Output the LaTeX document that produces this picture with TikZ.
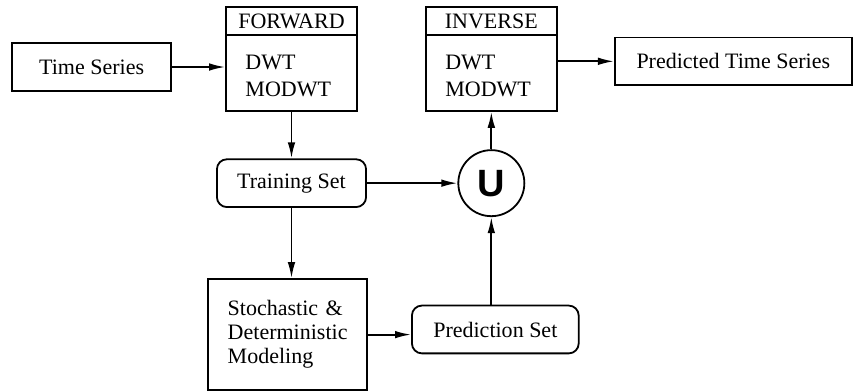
\documentclass[tikz,border=0pt]{standalone}
\usepackage{fontspec}
\setmainfont{Liberation Serif}
\newfontfamily\usans{Liberation Sans}
\usetikzlibrary{arrows.meta,positioning}
\tikzset{
  >={Latex[length=8pt,width=3.8pt]},
  box/.style={draw,line width=0.9pt,minimum height=0.84cm,align=center,
    font=\fontsize{11}{13}\selectfont},
  set/.style={box,rounded corners=5pt,minimum width=2.62cm},
  frame/.style={draw,line width=0.9pt,minimum width=2.3cm,minimum height=1.82cm},
  head/.style={draw,line width=0.9pt,minimum width=2.3cm,minimum height=0.49cm,
    anchor=north,inner sep=0pt,font=\fontsize{11}{13}\selectfont},
  body/.style={anchor=north west,align=left,inner sep=0pt,
    font=\fontsize{11}{13.5}\selectfont},
  union/.style={circle,draw,line width=0.9pt,minimum size=1.16cm,inner sep=0pt,
    font=\usans\bfseries\fontsize{19}{19}\selectfont},
  flow/.style={->,line width=0.9pt},
}
\begin{document}
\begin{tikzpicture}
    \useasboundingbox (0,0) rectangle (15,6.867);
    % input and output series
    \node[box,minimum width=2.79cm] (ts) at (1.61,5.69) {Time Series};
    \node[box,minimum width=4.16cm] (out) at (12.88,5.79) {Predicted Time Series};
    % wavelet transforms
    \node[frame] (fwd) at (5.12,5.83) {};
    \node[head] (fwdh) at (fwd.north) {FORWARD};
    \node[body] (fwdb) at ([shift={(0.35,-0.33)}]fwdh.south west) {DWT\\MODWT};
    \node[frame] (inv) at (8.63,5.83) {};
    \node[head] (invh) at (inv.north) {INVERSE};
    \node[body] (invb) at ([shift={(0.35,-0.33)}]invh.south west) {DWT\\MODWT};
    % sets and modeling
    \node[set] (train) at (5.12,3.65) {Training Set};
    \node[union] (u) at (8.63,3.65) {U};
    \node[box,align=left,text width=2.1cm,inner xsep=0.34cm,minimum height=1.95cm,
      font=\fontsize{11}{12}\selectfont] (stoch) at (5.05,0.99)
      {Stochastic \&\\Deterministic\\Modeling};
    \node[set,minimum width=2.93cm] (pred) at (8.70,1.08) {Prediction Set};
    % connectors
    \draw[flow] (ts) -- (ts -| fwd.west);
    \draw[flow] (fwd) -- (train);
    \draw[flow] (train.south) -- (train.south |- stoch.north);
    \draw[flow] (train) -- (u);
    \draw[flow] (stoch) -- (stoch -| pred.west);
    \draw[flow] (pred.north -| u) -- (u);
    \draw[flow] (u) -- (inv);
    \draw[flow] (out.west -| inv.east) -- (out.west);
\end{tikzpicture}
\end{document}
